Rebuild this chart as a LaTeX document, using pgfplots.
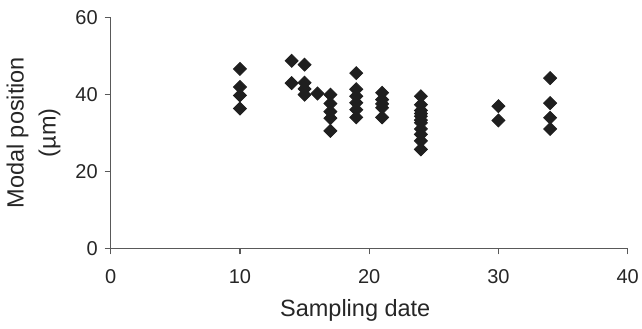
\documentclass[border=0pt]{standalone}
\usepackage{fontspec}
\setmainfont{Liberation Sans}
\usepackage{pgfplots}
\pgfplotsset{compat=1.18}
\begin{document}
\begin{tikzpicture}
\begin{axis}[
  name=ax,
  scale only axis,
  width=258.5pt, height=115.5pt,
  xmin=0, xmax=40, ymin=0, ymax=60,
  xtick={0,10,20,30,40}, ytick={0,20,40,60},
  axis lines=left,
  axis line style={-, black!65, line width=0.6pt},
  tick style={black!65, line width=0.6pt},
  tick align=outside,
  major tick length=3pt,
  /pgf/number format/assume math mode=true,
  tick label style={font=\fontsize{10}{12}\selectfont, text=black!85},
  xticklabel style={yshift=-4pt},
  label style={font=\fontsize{11.75}{16}\selectfont, text=black!85},
  xlabel={Sampling date},
  ylabel={Modal position\\(µm)},
  ylabel style={align=center, at={(axis description cs:-0.149,0.5)}, anchor=center},
  xlabel style={at={(axis description cs:0.473,-0.271)}, anchor=center},
  clip=false,
]
\addplot[only marks, mark=square*, mark size=2.3pt, mark options={rotate=45, fill=black!88, draw=black!88}] coordinates {
(10,46.6) (10,41.9) (10,39.7) (10,36.3)
(14,48.7) (14,42.9)
(15,47.7) (15,43.0) (15,41.4) (15,39.9)
(16,40.2)
(17,39.9) (17,37.6) (17,35.5) (17,33.8) (17,30.5)
(19,45.5) (19,41.3) (19,39.5) (19,37.8) (19,36.0) (19,34.0)
(21,40.4) (21,38.6) (21,37.5) (21,36.5) (21,34.0)
(24,39.5) (24,37.3) (24,35.8) (24,35.0) (24,34.3) (24,33.3) (24,32.6) (24,31.0) (24,29.6) (24,27.9) (24,25.7)
(30,36.9) (30,33.2)
(34,44.2) (34,37.7) (34,33.9) (34,31.0)
};
\end{axis}
\pgfresetboundingbox
\path ([shift={(-55.35pt,-40.35pt)}]ax.south west) rectangle ([shift={(7.15pt,8.65pt)}]ax.north east);
\end{tikzpicture}
\end{document}
